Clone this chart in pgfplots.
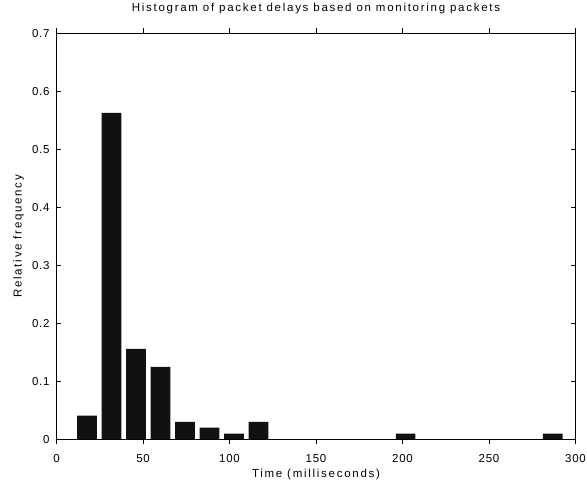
\documentclass[border=0pt]{standalone}
\usepackage{pgfplots}
\pgfplotsset{compat=1.18}
\usepackage{fontspec}
\setmainfont{Liberation Sans}
\newfontfamily\labelfont{Liberation Sans}[LetterSpace=15]
\newfontfamily\tickfont{Liberation Sans}[LetterSpace=6]

% Relative frequency of packet delays, 20 equal-width bins
\pgfplotstableread{
center  freq
17.60   0.041
31.77   0.563
45.94   0.156
60.11   0.125
74.28   0.030
88.45   0.020
102.62  0.010
116.79  0.030
130.96  0
145.13  0
159.30  0
173.47  0
187.64  0
201.81  0.010
215.98  0
230.15  0
244.32  0
258.49  0
272.66  0
286.83  0.010
}\delays

\definecolor{barfill}{RGB}{17,17,17}

\begin{document}
\begin{tikzpicture}
\begin{axis}[
  scale only axis,
  width=519bp, height=406bp,
  xmin=0, xmax=300, ymin=0, ymax=0.7,
  xtick={0,50,100,150,200,250,300},
  ytick={0,0.1,0.2,0.3,0.4,0.5,0.6,0.7},
  axis line style={line width=1bp},
  tick style={black, line width=0.7bp},
  tick align=inside,
  major tick length=5bp,
  /pgf/number format/assume math mode=true,
  tick label style={font=\tickfont\fontsize{11.5bp}{13bp}\selectfont},
  xticklabel style={anchor=base, yshift=-18bp},
  yticklabel style={xshift=-3.5bp},
  title={Histogram of packet delays based on monitoring packets},
  title style={at={(axis description cs:0.5,1)}, anchor=base, yshift=16bp,
    font=\labelfont\fontsize{11.5bp}{13bp}\selectfont},
  xlabel={Time (milliseconds)},
  xlabel style={at={(axis description cs:0.5,0)}, anchor=base, yshift=-38.5bp,
    font=\labelfont\fontsize{11.5bp}{13bp}\selectfont},
  ylabel={Relative frequency},
  ylabel style={at={(axis description cs:-0.067,0.5)}, rotate=0, anchor=base,
    font=\labelfont\fontsize{11.5bp}{13bp}\selectfont},
  ybar, bar width=11.34,
]
\addplot[fill=barfill, draw=none] table[x=center, y=freq] {\delays};
\coordinate (SW) at (rel axis cs:0,0);
\end{axis}
\pgfresetboundingbox
\path[use as bounding box] ([shift={(-56.5bp,-43.7bp)}]SW) rectangle ++(587bp,483bp);
\end{tikzpicture}
\end{document}
